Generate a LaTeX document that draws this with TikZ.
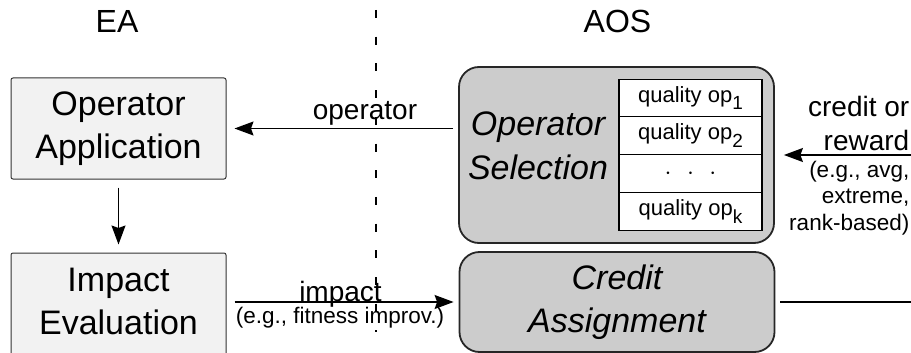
\documentclass[tikz,border=0pt]{standalone}
\usepackage{fontspec}
\setmainfont{Liberation Sans}
\usetikzlibrary{arrows.meta}
\newcommand{\fsz}[2]{\fontsize{#1pt}{#2pt}\selectfont}
\newcommand{\qop}[1]{quality op\raisebox{-0.36em}{\fsz{19}{19}#1}}
\begin{document}
\begin{tikzpicture}[x=1pt,y=-1pt,
  eabox/.style={draw=black!80, fill=black!5, line width=1pt, rounded corners=2pt,
    minimum width=215pt, inner sep=0pt},
  aosbox/.style={draw=black!85, fill=black!20, line width=1.8pt, rounded corners=20pt,
    minimum width=315pt, inner sep=0pt},
  bigtext/.style={font=\fsz{34}{43}, align=center, inner sep=0pt},
  titletext/.style={font=\fsz{32}{38}, inner sep=0pt, anchor=base},
  labeltext/.style={font=\fsz{28}{33}, inner sep=0pt, anchor=base},
  smalltext/.style={font=\fsz{22.5}{26.5}, inner sep=0pt, anchor=base},
  qcell/.style={draw=black, fill=white, line width=1.2pt, minimum width=143pt,
    minimum height=37.75pt, inner sep=0pt, font=\fsz{22}{24}},
  arr/.style={line width=1.4pt, -{Stealth[length=19pt,width=14pt,inset=2.5pt]}},
  plain/.style={line width=1.4pt}
]
\useasboundingbox (0,0) rectangle (911,353);

% column titles and separator
\node[titletext] (ea) at (117,33) {EA};
\node[titletext] (aos) at (617.5,33) {AOS};
\coordinate (septop) at (376,10);
\coordinate (sepbot) at (376,332);
\draw[line width=1.4pt, dash pattern=on 8pt off 18.7pt] (septop) -- (sepbot);

% EA side
\node[eabox, minimum height=101pt, bigtext] (opapp) at (118.5,128.5) {Operator\\Application};
\node[eabox, minimum height=117pt] (impeval) at (118.5,311.5) {};
\node[bigtext] (impevaltext) at (118.5,301.3) {Impact\\Evaluation};

% AOS side
\node[aosbox, minimum height=176pt] (opsel) at (616.5,155) {};
\node[bigtext, font=\fsz{34}{44}\itshape] (opseltext) at (538,145.5) {Operator\\Selection};
\node[qcell] (q1) at (690.5,98) {\qop{1}};
\node[qcell] (q2) at (690.5,135.75) {\qop{2}};
\node[qcell] (q3) at (690.5,173.5) {\fsz{30}{30}$\cdot\hspace{10pt}\cdot\hspace{10pt}\cdot$};
\node[qcell] (q4) at (690.5,211.25) {\qop{k}};
\node[aosbox, minimum height=100pt, bigtext, font=\fsz{34}{43}\itshape] (credassign) at (617,302) {Credit\\Assignment};

% flows between the two sides
\draw[arr, shorten <=5pt, shorten >=8pt] (opapp.east -| opsel.west) -- (opapp.east);
\node[labeltext] (oplabel) at (365,119) {operator};
\draw[arr, shorten <=8pt, shorten >=8pt] (opapp.south) -- (impeval.north);
\draw[arr, shorten <=8pt, shorten >=5pt] (credassign.west -| impeval.east) -- (credassign.west);
\node[labeltext] (implabel) at (340.5,301) {impact};
\node[smalltext] (impnote) at (340,323) {(e.g., fitness improv.)};

% credit feedback loop on the right
\coordinate (creditout) at (911,302);
\coordinate (creditin) at (911,155);
\draw[plain, shorten <=5pt] (credassign.east) -- (creditout);
\draw[arr, shorten >=9pt] (creditin) -- (opsel.east);
\node[labeltext, anchor=base east] (credlabel1) at (909.5,117) {credit or};
\node[labeltext, anchor=base east] (credlabel2) at (909.5,150) {reward};
\node[smalltext, anchor=base east] (crednote1) at (909.5,177) {(e.g., avg,};
\node[smalltext, anchor=base east] (crednote2) at (909.5,203.5) {extreme,};
\node[smalltext, anchor=base east] (crednote3) at (909.5,230) {rank-based)};
\end{tikzpicture}
\end{document}
